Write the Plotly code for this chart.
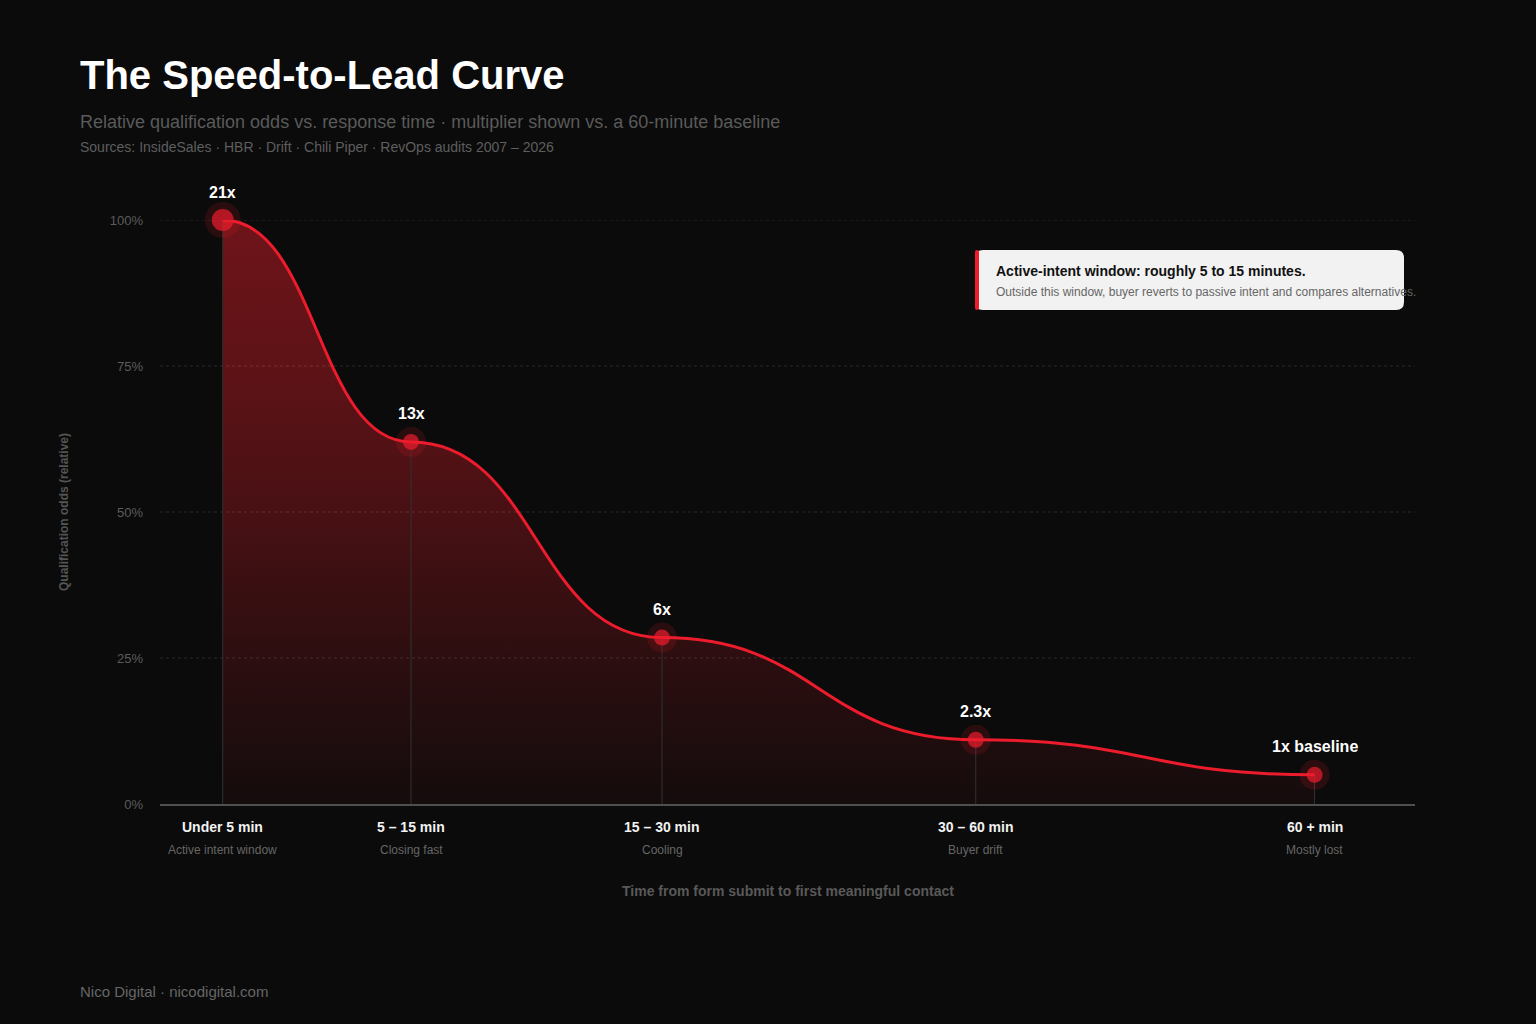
import plotly.graph_objects as go

# data
x_pos = [0.05, 0.2, 0.4, 0.65, 0.92]          # position of each bucket along the time axis
odds = [100, 62, 28.5, 11, 5]                  # relative qualification odds, %
mult_labels = ["21x", "13x", "6x", "2.3x", "1x baseline"]
buckets = ["Under 5 min", "5 – 15 min", "15 – 30 min", "30 – 60 min", "60 + min"]
bucket_notes = ["Active intent window", "Closing fast", "Cooling", "Buyer drift", "Mostly lost"]
y_ticks = [0, 25, 50, 75, 100]

W, H = 1536, 1024
L, R, T, B = 160, 121, 220, 220
BG = "#0b0b0b"
RED = "#ec1c2c"
FONT = "Liberation Sans, Arial, sans-serif"


def px_x(p):
    return (p - L) / (W - L - R)


def px_y(p):
    return (H - B - p) / (H - T - B)


def bump(xs, ys):
    d = ""
    for i in range(1, len(xs)):
        xm = (xs[i - 1] + xs[i]) / 2
        d += f" C{xm},{ys[i - 1]} {xm},{ys[i]} {xs[i]},{ys[i]}"
    return d


def rounded(x0, y0, x1, y1, r):
    # rounded rectangle in paper coords, r in pixels
    rx = r / (W - L - R)
    ry = r / (H - T - B)
    return (f"M{x0 + rx},{y1} L{x1 - rx},{y1} Q{x1},{y1} {x1},{y1 - ry} "
            f"L{x1},{y0 + ry} Q{x1},{y0} {x1 - rx},{y0} L{x0 + rx},{y0} "
            f"Q{x0},{y0} {x0},{y0 + ry} L{x0},{y1 - ry} Q{x0},{y1} {x0 + rx},{y1} Z")


fig = go.Figure()

# darkening overlay so the area fill fades toward the baseline
fig.add_trace(go.Scatter(
    x=[x_pos[0], x_pos[-1], x_pos[-1], x_pos[0], x_pos[0]],
    y=[0, 0, max(odds), max(odds), 0],
    mode="lines", fill="toself", line=dict(width=0),
    fillgradient=dict(type="vertical", start=0, stop=max(odds),
                      colorscale=[[0, "rgba(11,11,11,0.9)"], [0.25, "rgba(11,11,11,0.66)"],
                                  [0.5, "rgba(11,11,11,0.38)"], [0.75, "rgba(11,11,11,0.16)"],
                                  [1, "rgba(11,11,11,0)"]]),
    hoverinfo="skip", showlegend=False))

# dotted gridlines
gx, gy = [], []
for v in y_ticks[1:]:
    gx += [0, 1, None]
    gy += [v, v, None]
fig.add_trace(go.Scatter(x=gx, y=gy, mode="lines",
                         line=dict(color="rgba(255,255,255,0.13)", width=1, dash="dot"),
                         hoverinfo="skip", showlegend=False))

# drop lines
dx, dy = [], []
for xv, yv in zip(x_pos, odds):
    dx += [xv, xv, None]
    dy += [0, yv, None]
fig.add_trace(go.Scatter(x=dx, y=dy, mode="lines", line=dict(color="#2f3232", width=1),
                         hoverinfo="skip", showlegend=False))

sizes = [22] + [16] * (len(odds) - 1)
fig.add_trace(go.Scatter(x=x_pos, y=odds, mode="markers",
                         marker=dict(size=[s + 14 for s in sizes], color="rgba(236,28,44,0.2)",
                                     line=dict(width=0)),
                         cliponaxis=False, hoverinfo="skip", showlegend=False))
fig.add_trace(go.Scatter(x=x_pos, y=odds, mode="markers",
                         marker=dict(size=sizes, color=RED, line=dict(width=0)),
                         cliponaxis=False, showlegend=False))

shapes = [
    dict(type="path", xref="x", yref="y", layer="below",
         path=f"M{x_pos[0]},0 L{x_pos[0]},{odds[0]}" + bump(x_pos, odds) + f" L{x_pos[-1]},0 Z",
         fillcolor="#6e1419", line=dict(width=0)),
    dict(type="path", xref="x", yref="y", layer="above",
         path=f"M{x_pos[0]},{odds[0]}" + bump(x_pos, odds),
         line=dict(color=RED, width=3)),
    # callout box
    dict(type="path", xref="paper", yref="paper", layer="above",
         path=rounded(px_x(975), px_y(310), px_x(1404), px_y(250), 8),
         fillcolor="#f2f2f2", line=dict(width=0)),
    dict(type="path", xref="paper", yref="paper", layer="above",
         path=rounded(px_x(975), px_y(310), px_x(979), px_y(250), 2),
         fillcolor=RED, line=dict(width=0)),
]

ann = []
for xv, yv, lab in zip(x_pos, odds, mult_labels):
    ann.append(dict(x=xv, y=yv, xref="x", yref="y", text=f"<b>{lab}</b>", showarrow=False,
                    yshift=28, font=dict(size=16, color="#ffffff", family=FONT)))
for xv, b, n in zip(x_pos, buckets, bucket_notes):
    ann.append(dict(x=xv, y=px_y(827), xref="x", yref="paper", text=f"<b>{b}</b>",
                    showarrow=False, yanchor="middle",
                    font=dict(size=14, color="#f2f2f2", family=FONT)))
    ann.append(dict(x=xv, y=px_y(850), xref="x", yref="paper", text=n,
                    showarrow=False, yanchor="middle",
                    font=dict(size=12, color="#666666", family=FONT)))

texts = [
    ("<b>The Speed-to-Lead Curve</b>", 78, 75, 40, "#ffffff"),
    ("Relative qualification odds vs. response time · multiplier shown vs. a 60-minute baseline",
     78, 122, 18, "#5a5a5a"),
    ("Sources: InsideSales · HBR · Drift · Chili Piper · RevOps audits 2007 – 2026", 78, 147, 14, "#5e5e5e"),
    ("Nico Digital · nicodigital.com", 78, 991, 15, "#666666"),
    ("<b>Active-intent window: roughly 5 to 15 minutes.</b>", 994, 271, 14, "#111111"),
    ("Outside this window, buyer reverts to passive intent and compares alternatives.", 994, 292, 12, "#666666"),
]
for t, x, y, s, c in texts:
    ann.append(dict(x=px_x(x), y=px_y(y), xref="paper", yref="paper", text=t, showarrow=False,
                    xanchor="left", yanchor="middle", font=dict(size=s, color=c, family=FONT)))

ann.append(dict(x=0.5, y=px_y(891), xref="paper", yref="paper",
                text="<b>Time from form submit to first meaningful contact</b>", showarrow=False,
                yanchor="middle", font=dict(size=14, color="#595959", family=FONT)))
ann.append(dict(x=px_x(64), y=0.5, xref="paper", yref="paper", textangle=-90,
                text="<b>Qualification odds (relative)</b>", showarrow=False,
                xanchor="center", yanchor="middle", font=dict(size=12, color="#555555", family=FONT)))

fig.update_layout(
    width=W, height=H,
    margin=dict(l=L, r=R, t=T, b=B),
    paper_bgcolor=BG, plot_bgcolor=BG,
    font=dict(family=FONT),
    shapes=shapes, annotations=ann,
    xaxis=dict(range=[0, 1], showgrid=False, zeroline=False, showticklabels=False,
               showline=True, linecolor="#4f4f4f", linewidth=2, fixedrange=True),
    yaxis=dict(range=[0, 100], tickmode="array", tickvals=y_ticks,
               ticktext=[f"{v}%" for v in y_ticks], showgrid=False, zeroline=False,
               tickfont=dict(size=13, color="#5c5c5c"), ticklabelstandoff=16, fixedrange=True),
    showlegend=False,
)

fig.write_html("out.html", config={"displayModeBar": False},
               post_script="document.body.style.margin='0';document.body.style.background='#0b0b0b';")
